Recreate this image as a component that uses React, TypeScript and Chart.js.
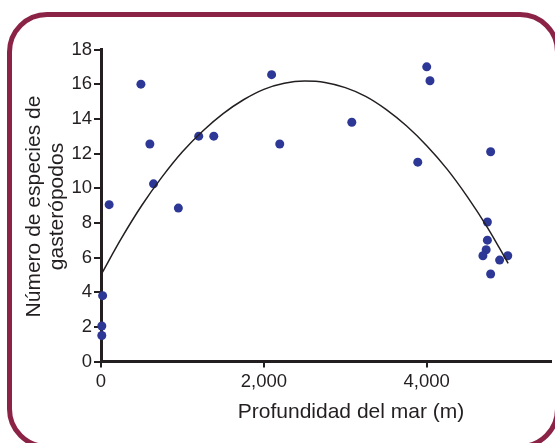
import React, { useEffect, useRef } from 'react';
import { Chart, registerables } from 'chart.js';

Chart.register(...registerables);

// Observed samples: sea depth (m) vs number of gastropod species
const depthM = [10, 10, 20, 100, 490, 600, 645, 950, 1200, 1385, 2095, 2195, 3080, 3890, 4000, 4040, 4785, 4745, 4745, 4730, 4690, 4895, 4995, 4785];
const speciesCount = [2.05, 1.5, 3.8, 9.05, 16, 12.55, 10.25, 8.85, 13, 13, 16.55, 12.55, 13.8, 11.5, 17, 16.2, 12.1, 8.05, 7, 6.45, 6.1, 5.85, 6.1, 5.05];

// Fitted curve
const fitDepthM = [0, 250, 500, 750, 1000, 1250, 1500, 1750, 2000, 2250, 2500, 2750, 3000, 3250, 3500, 3750, 4000, 4250, 4500, 4750, 5000];
const fitSpecies = [5.0, 7.1, 9.0, 10.65, 12.1, 13.3, 14.3, 15.1, 15.7, 16.05, 16.18, 16.1, 15.8, 15.3, 14.55, 13.6, 12.45, 11.1, 9.5, 7.7, 5.66];

const xTickValues = [0, 2000, 4000];
const xTickLabels = ['0', '2,000', '4,000'];
const yTickValues = [0, 2, 4, 6, 8, 10, 12, 14, 16, 18];
const xAxisTitle = 'Profundidad del mar (m)';
const yAxisTitle = ['Número de especies de', 'gasterópodos'];

export default function App() {
  const ref = useRef<HTMLCanvasElement>(null);

  useEffect(() => {
    if (!ref.current) return;
    const ink = '#231f20';
    const family = '"Liberation Sans", Arial, Helvetica, sans-serif';

    const titlePlugin = {
      id: 'axisTitles',
      afterDraw(chart: any) {
        const { ctx, chartArea } = chart;
        ctx.save();
        ctx.fillStyle = ink;
        ctx.font = `21px ${family}`;
        ctx.textAlign = 'center';
        ctx.textBaseline = 'middle';
        ctx.fillText(xAxisTitle, 351, 412);
        ctx.translate(34, (chartArea.top + chartArea.bottom) / 2 + 1);
        ctx.rotate(-Math.PI / 2);
        yAxisTitle.forEach((t, i) => ctx.fillText(t, 0, i * 23));
        ctx.restore();
      },
    };

    const chart = new Chart(ref.current, {
      type: 'scatter',
      data: {
        datasets: [
          {
            data: fitDepthM.map((x, i) => ({ x, y: fitSpecies[i] })),
            showLine: true,
            borderColor: ink,
            borderWidth: 1.5,
            pointRadius: 0,
            cubicInterpolationMode: 'monotone',
            fill: false,
            order: 0,
            clip: false,
          } as any,
          {
            data: depthM.map((x, i) => ({ x, y: speciesCount[i] })),
            backgroundColor: '#2d3795',
            borderWidth: 0,
            pointRadius: 4.5,
            order: 1,
            clip: false,
          } as any,
        ],
      },
      options: {
        responsive: false,
        animation: false,
        layout: { padding: { left: 0, top: 49.5, right: 3, bottom: 0 } },
        plugins: { legend: { display: false }, tooltip: { enabled: false } },
        scales: {
          x: {
            type: 'linear',
            min: 0,
            max: 5520,
            afterBuildTicks: (s: any) => {
              s.ticks = xTickValues.map((v) => ({ value: v }));
            },
            afterFit: (s: any) => {
              s.height = 81.5;
            },
            grid: { drawOnChartArea: false, drawTicks: true, tickLength: 6, color: ink, lineWidth: 2 },
            border: { display: true, color: ink, width: 3 },
            ticks: {
              color: ink,
              font: { size: 18.5, family },
              padding: 3,
              maxRotation: 0,
              autoSkip: false,
              callback: (_v: any, i: number) => xTickLabels[i],
            },
          },
          y: {
            type: 'linear',
            min: 0,
            max: 18,
            afterBuildTicks: (s: any) => {
              s.ticks = yTickValues.map((v) => ({ value: v }));
            },
            afterFit: (s: any) => {
              s.width = 101;
            },
            grid: { drawOnChartArea: false, drawTicks: true, tickLength: 7, color: ink, lineWidth: 2 },
            border: { display: true, color: ink, width: 3 },
            ticks: {
              color: ink,
              font: { size: 18.5, family },
              padding: 2,
              autoSkip: false,
              callback: (v: any) => String(v),
            },
          },
        },
      },
      plugins: [titlePlugin],
    });
    return () => chart.destroy();
  }, []);

  return (
    <div style={{ position: 'absolute', left: 0, top: 0, width: 555, height: 443, overflow: 'hidden', background: '#fff' }}>
      <div
        style={{
          position: 'absolute',
          left: 7,
          top: 12,
          width: 553,
          height: 437,
          border: '5px solid #8b2347',
          borderRadius: 40,
          boxSizing: 'border-box',
        }}
      />
      <canvas ref={ref} width={555} height={443} style={{ position: 'absolute', left: 0, top: 0, width: 555, height: 443 }} />
    </div>
  );
}
